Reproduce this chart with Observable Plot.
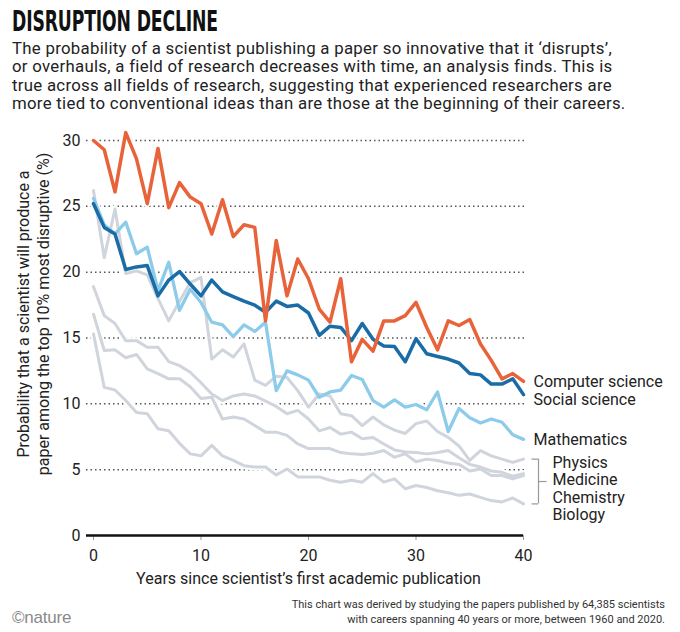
<!DOCTYPE html>
<html>
<head>
<meta charset="utf-8">
<script src="https://cdn.jsdelivr.net/npm/d3@7"></script>
<script src="https://cdn.jsdelivr.net/npm/@observablehq/plot@0.6"></script>
<style>
  html, body { margin: 0; padding: 0; background: #fff; }
  body { width: 680px; height: 632px; position: relative; overflow: hidden; font-family: Roboto, "Noto Sans", sans-serif; color: #222; }
  #title { position: absolute; left: 12px; top: 5px; font-family: "Liberation Sans Narrow", "DejaVu Sans Condensed", sans-serif; font-weight: bold; font-size: 29px; line-height: 32px; white-space: nowrap; transform-origin: 0 0; color: #111; letter-spacing: -0.2px; }
  #sub { position: absolute; left: 12px; top: 39px; font-size: 16.8px; line-height: 18.3px; white-space: nowrap; color: #222; }
  #sub span { display: block; }
  #chart { position: absolute; left: 0; top: 120px; }
  #foot { position: absolute; right: 15px; top: 597px; text-align: right; font-family: "Liberation Sans Narrow", "Roboto", sans-serif; font-size: 11px; line-height: 15px; color: #333; white-space: nowrap; }
  #logo { position: absolute; left: 12px; top: 608px; font-family: "Liberation Sans Narrow", sans-serif; font-size: 17px; color: #8a8a8a; letter-spacing: -0.2px; }
</style>
</head>
<body>
<div id="title">DISRUPTION DECLINE</div>
<div id="sub"><span id="sub1">The probability of a scientist publishing a paper so innovative that it ‘disrupts’,</span><span>or overhauls, a field of research decreases with time, an analysis finds. This is</span><span>true across all fields of research, suggesting that experienced researchers are</span><span>more tied to conventional ideas than are those at the beginning of their careers.</span></div>
<div id="chart"></div>
<div id="foot">This chart was derived by studying the papers published by 64,385 scientists<br>with careers spanning 40 years or more, between 1960 and 2020.</div>
<div id="logo">©nature</div>
<script>
const years = [0,1,2,3,4,5,6,7,8,9,10,11,12,13,14,15,16,17,18,19,20,21,22,23,24,25,26,27,28,29,30,31,32,33,34,35,36,37,38,39,40];
const xTicks = [0, 10, 20, 30, 40];
const yTicks = [0, 5, 10, 15, 20, 25, 30];

const computerScience = [30.0, 29.3, 26.1, 30.6, 28.6, 25.2, 29.4, 24.9, 26.8, 25.7, 25.2,
  22.9, 25.5, 22.7, 23.6, 23.4, 16.3, 22.4, 18.2, 21.0, 19.5,
  17.2, 16.2, 19.5, 13.2, 14.9, 14.0, 16.3, 16.3, 16.7, 17.7,
  15.8, 14.1, 16.3, 15.95, 16.4, 14.55, 13.3, 11.9, 12.3, 11.7];
const socialScience = [25.2, 23.4, 22.9, 20.2, 20.4, 20.5, 18.2, 19.4, 20.05, 19.1, 18.2,
  19.4, 18.5, 18.15, 17.8, 17.5, 16.95, 17.8, 17.4, 17.5, 16.9,
  15.2, 15.9, 15.8, 14.8, 16.1, 14.9, 14.4, 14.35, 13.2, 14.95,
  13.8, 13.6, 13.4, 13.1, 12.3, 12.2, 11.5, 11.5, 11.9, 10.7];
const mathematics = [25.6, 23.6, 22.9, 23.8, 21.4, 21.9, 18.6, 20.75, 17.1, 18.7, 17.7,
  16.2, 16.0, 15.1, 16.0, 15.5, 16.2, 11.0, 12.5, 12.2, 11.8,
  10.5, 10.9, 11.05, 12.15, 11.85, 10.25, 9.75, 10.3, 9.75, 9.95,
  9.55, 10.9, 7.9, 9.65, 8.95, 8.55, 8.85, 8.6, 7.65, 7.3];
const physics = [26.2, 21.1, 24.8, 19.9, 20.1, 19.8, 18.0, 16.3, 17.8, 19.2, 19.6,
  13.4, 14.1, 13.55, 14.55, 11.8, 11.4, 12.1, 12.0, 11.0, 9.75,
  10.75, 10.6, 9.25, 9.1, 8.35, 9.0, 8.4, 8.0, 7.75, 8.5,
  8.7, 7.9, 7.45, 6.8, 5.7, 6.45, 6.05, 5.8, 5.55, 5.8];
const medicine = [18.9, 16.7, 16.1, 14.8, 14.8, 14.3, 14.3, 13.2, 12.9, 12.4, 11.6,
  10.75, 10.25, 10.6, 10.75, 10.6, 10.2, 9.8, 9.25, 9.5, 8.85,
  7.95, 8.2, 7.7, 7.85, 7.35, 7.45, 6.95, 6.5, 6.35, 6.3,
  6.2, 6.3, 6.45, 5.9, 5.4, 5.2, 4.9, 4.8, 4.5, 4.7];
const chemistry = [16.8, 14.05, 14.1, 13.5, 13.75, 12.65, 12.3, 11.9, 11.9, 11.3, 10.4,
  10.5, 8.85, 9.0, 8.85, 8.35, 7.85, 7.85, 7.6, 6.95, 6.6,
  6.6, 6.6, 6.3, 6.2, 6.15, 6.25, 6.45, 5.95, 6.2, 5.6,
  5.8, 5.7, 5.5, 5.4, 4.9, 5.05, 4.55, 4.55, 4.3, 4.55];
const biology = [15.3, 11.25, 11.05, 10.25, 9.35, 9.25, 8.1, 7.95, 7.0, 6.2, 6.05,
  6.85, 6.05, 5.7, 5.3, 5.2, 5.2, 4.6, 5.05, 4.45, 4.45,
  4.45, 4.2, 4.05, 4.2, 4.05, 4.7, 4.05, 4.3, 3.55, 3.8,
  3.65, 3.4, 3.25, 3.05, 3.15, 2.9, 2.65, 2.55, 2.85, 2.4];

const fieldNames = ["Physics", "Medicine", "Chemistry", "Biology", "Mathematics", "Social science", "Computer science"];
const fieldValues = [physics, medicine, chemistry, biology, mathematics, socialScience, computerScience];
const fieldColors = ["#d0d4dc", "#d0d4dc", "#d0d4dc", "#d0d4dc", "#8dcbea", "#1a6ca6", "#e8633a"];
const fieldWidths = [3, 3, 3, 3, 3.3, 3.5, 3.5];
const labelDy = [0, 0, 0, 0, 0, 5, 0];

const rows = fieldNames.flatMap((name, k) => years.map((year, i) => ({field: name, year, value: fieldValues[k][i]})));
const lastYear = years[years.length - 1];
const grayEnds = fieldValues.slice(0, 4).map(v => v[v.length - 1]);
const bracketTop = d3.max(grayEnds), bracketBottom = d3.min(grayEnds);
const bracketMid = (bracketTop + bracketBottom) / 2;

const lineMarks = fieldNames.map((name, k) =>
  Plot.line(rows.filter(r => r.field === name), {x: "year", y: "value", stroke: fieldColors[k], strokeWidth: fieldWidths[k]}));

const colorLabels = [4, 5, 6].map(k =>
  Plot.text([fieldValues[k][fieldValues[k].length - 1]], {x: () => lastYear, y: d => d, text: () => fieldNames[k],
    dx: 10, dy: labelDy[k], textAnchor: "start", fill: "#222", fontSize: 16}));

const chart = Plot.plot({
  width: 680, height: 470,
  marginTop: 20, marginBottom: 55, marginLeft: 93, marginRight: 157,
  x: {domain: [0, 40]},
  y: {domain: [0, 30]},
  style: {fontFamily: "Roboto, 'Noto Sans', sans-serif", fontSize: "16px", color: "#222", overflow: "visible", background: "transparent"},
  marks: [
    Plot.ruleY(yTicks.filter(d => d > 0), {stroke: "#555", strokeWidth: 1.5, strokeDasharray: "1.5 3", insetLeft: -7, insetRight: -2}),
    Plot.line(rows, {x: "year", y: "value", z: "field", stroke: "white", strokeWidth: 7}),
    ...lineMarks,
    Plot.axisY({ticks: yTicks, tickSize: 0, tickPadding: 13, label: null, fontSize: 16, fill: "#222"}),
    Plot.axisX({ticks: xTicks, tickSize: 5, tickPadding: 9, label: null, fontSize: 16, stroke: "#999", fill: "#222"}),
    Plot.ruleY([0], {stroke: "#111", strokeWidth: 2.6, insetLeft: -7}),
    ...colorLabels,
    Plot.text([bracketTop], {x: () => lastYear, y: d => d, text: () => fieldNames.slice(0, 4).join("\n"),
      lineAnchor: "top", lineHeight: 1.1, dx: 29, dy: -4, textAnchor: "start", fill: "#222", fontSize: 16}),
    Plot.ruleX([lastYear], {y1: () => bracketTop, y2: () => bracketBottom, dx: 15, stroke: "#999", strokeWidth: 1.2}),
    Plot.ruleY([bracketTop, bracketBottom], {x1: () => lastYear, x2: () => lastYear, insetLeft: 8.5, insetRight: -15, stroke: "#999", strokeWidth: 1.2}),
    Plot.ruleY([bracketMid], {x1: () => lastYear, x2: () => lastYear, insetLeft: 15, insetRight: -23.5, stroke: "#999", strokeWidth: 1.2}),
    Plot.text(["Probability that a scientist will produce a\npaper among the top 10% most disruptive (%)"],
      {frameAnchor: "left", textAnchor: "middle", lineAnchor: "middle", rotate: -90, dx: -61, dy: -24, lineHeight: 1.25, fontSize: 16, fill: "#222"}),
    Plot.text(["Years since scientist’s first academic publication"],
      {frameAnchor: "bottom", lineAnchor: "middle", dy: 43, fontSize: 16, fill: "#222"})
  ]
});
document.getElementById("chart").appendChild(chart);

const t = document.getElementById("title");
const w = t.getBoundingClientRect().width;
t.style.transform = `scaleX(${206 / w})`;

// fit subtitle width to the reference measure
const s1 = document.getElementById("sub1");
const r = document.createRange(); r.selectNodeContents(s1);
const sw = r.getBoundingClientRect().width;
const nChars = s1.textContent.length;
document.getElementById("sub").style.letterSpacing = ((600 - sw) / nChars) + "px";
</script>
</body>
</html>
